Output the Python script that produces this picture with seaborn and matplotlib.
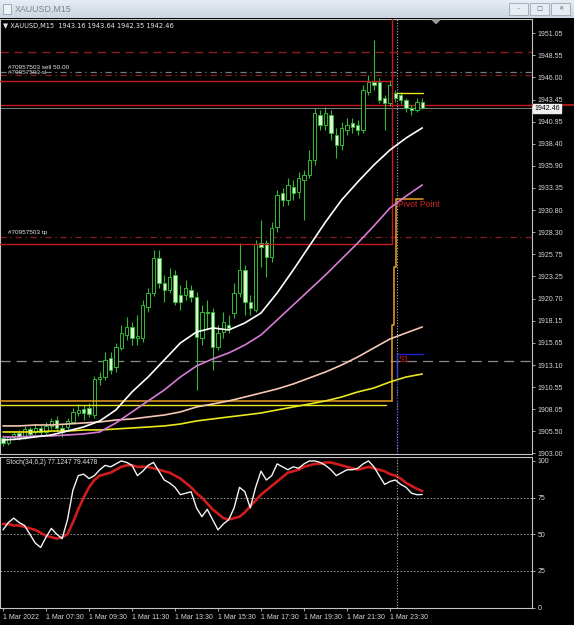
# XAUUSD M15 chart (MT4 style) with MAs, levels and stochastic
import numpy as np
import pandas as pd
import seaborn as sns
import matplotlib.pyplot as plt
from matplotlib.patches import Rectangle, Polygon
from matplotlib.lines import Line2D

W, H = 574, 625

# ---- candles, 1 Mar 2022 05:30 onward ----
opens = [1904.75, 1904.18, 1904.87, 1905.32, 1904.87, 1905.78, 1905.44, 1905.90, 1905.44, 1906.13,
         1906.81, 1905.90, 1906.01, 1906.58, 1907.61, 1908.07, 1908.18, 1907.38, 1911.50, 1911.73,
         1913.90, 1912.88, 1915.05, 1916.54, 1917.45, 1916.19, 1916.19, 1919.74, 1921.34, 1925.34,
         1922.48, 1921.68, 1923.40, 1921.11, 1921.11, 1921.68, 1920.88, 1916.19, 1919.17, 1919.17,
         1915.16, 1916.88, 1917.68, 1919.05, 1921.34, 1923.97, 1920.31, 1919.40, 1927.06, 1927.06,
         1925.46, 1928.89, 1932.78, 1931.98, 1933.47, 1932.90, 1934.27, 1934.84, 1936.56, 1941.70,
         1940.56, 1941.70, 1939.42, 1938.27, 1939.99, 1940.79, 1940.56, 1939.99, 1944.34, 1945.48,
         1945.48, 1943.65, 1943.08, 1944.22, 1943.99, 1943.42, 1942.50, 1942.28, 1943.16]
highs = [1905.10, 1904.98, 1905.55, 1905.67, 1906.13, 1906.01, 1906.35, 1906.24, 1906.58, 1907.04,
         1907.27, 1906.35, 1907.04, 1908.18, 1908.64, 1908.53, 1908.76, 1911.85, 1912.30, 1914.59,
         1914.59, 1915.62, 1917.68, 1918.60, 1918.02, 1918.82, 1920.54, 1921.91, 1926.26, 1926.26,
         1923.40, 1924.20, 1923.97, 1922.26, 1922.83, 1922.26, 1921.46, 1919.97, 1920.54, 1919.62,
         1917.68, 1919.17, 1918.82, 1922.48, 1927.06, 1924.54, 1921.11, 1927.40, 1929.69, 1927.40,
         1929.46, 1933.12, 1933.35, 1934.50, 1934.27, 1935.18, 1935.41, 1937.70, 1942.50, 1942.28,
         1942.62, 1942.28, 1940.22, 1940.90, 1941.36, 1941.36, 1941.13, 1945.14, 1946.28, 1950.28,
         1945.94, 1943.99, 1945.71, 1944.56, 1944.34, 1943.65, 1942.85, 1943.65, 1943.64]
lows = [1903.84, 1903.95, 1904.52, 1904.52, 1904.64, 1904.98, 1905.21, 1905.10, 1905.21, 1905.78,
        1905.55, 1904.87, 1905.67, 1906.35, 1907.27, 1906.81, 1907.16, 1907.04, 1910.82, 1911.39,
        1912.07, 1912.30, 1914.82, 1915.96, 1915.39, 1915.39, 1915.74, 1919.17, 1921.00, 1921.91,
        1920.31, 1921.34, 1919.97, 1919.40, 1920.54, 1920.31, 1910.24, 1915.39, 1917.11, 1912.53,
        1914.82, 1916.19, 1916.76, 1918.48, 1920.88, 1918.82, 1918.82, 1919.17, 1924.32, 1923.17,
        1924.89, 1928.32, 1931.29, 1931.41, 1931.98, 1932.21, 1929.69, 1934.50, 1935.98, 1939.99,
        1939.99, 1938.84, 1936.78, 1937.70, 1939.42, 1939.64, 1939.42, 1939.64, 1943.99, 1944.56,
        1943.08, 1939.99, 1942.73, 1943.19, 1942.96, 1942.05, 1941.70, 1942.05, 1942.35]
closes = [1904.18, 1904.87, 1905.21, 1904.87, 1905.78, 1905.21, 1905.90, 1905.44, 1906.13, 1906.70,
          1905.90, 1905.44, 1906.70, 1907.73, 1907.96, 1907.61, 1907.50, 1911.50, 1911.73, 1913.68,
          1912.53, 1915.16, 1916.76, 1917.45, 1916.19, 1916.42, 1919.97, 1921.34, 1925.34, 1922.48,
          1921.68, 1923.17, 1920.31, 1920.31, 1921.91, 1920.88, 1916.31, 1919.17, 1919.05, 1915.16,
          1916.76, 1918.02, 1917.34, 1921.34, 1923.97, 1920.31, 1919.62, 1926.95, 1926.60, 1925.46,
          1928.78, 1932.55, 1931.98, 1933.70, 1932.78, 1934.50, 1934.84, 1936.56, 1941.93, 1940.56,
          1941.93, 1939.64, 1938.27, 1940.22, 1940.56, 1940.33, 1939.99, 1944.56, 1945.48, 1945.14,
          1943.42, 1943.08, 1945.14, 1943.65, 1943.42, 1942.50, 1942.28, 1943.19, 1942.46]

# ---- moving averages, read every 3 bars ----
ma_bars = list(range(0, 79, 3))
ma_white = [1904.52, 1904.64, 1904.87, 1905.10, 1905.55, 1906.01, 1906.70, 1907.96, 1910.02, 1911.73,
            1913.68, 1915.62, 1916.88, 1917.34, 1917.11, 1917.91, 1919.05, 1921.34, 1923.97, 1926.72,
            1929.46, 1931.98, 1934.04, 1935.98, 1937.70, 1939.07, 1940.22]
ma_violet = [1904.87, 1904.87, 1904.98, 1904.98, 1905.10, 1905.21, 1905.44, 1906.47, 1907.73, 1908.99,
             1910.24, 1911.73, 1912.99, 1913.79, 1914.48, 1915.39, 1916.54, 1918.25, 1919.97, 1921.68,
             1923.40, 1925.23, 1927.06, 1929.01, 1931.06, 1932.43, 1933.70]
ma_peach = [1906.13, 1906.13, 1906.24, 1906.24, 1906.35, 1906.47, 1906.58, 1906.81, 1906.93, 1907.16,
            1907.38, 1907.73, 1908.30, 1908.64, 1908.99, 1909.44, 1909.90, 1910.36, 1910.93, 1911.62,
            1912.30, 1913.10, 1914.02, 1915.05, 1916.08, 1916.77, 1917.45]
ma_yellow = [1905.44, 1905.44, 1905.44, 1905.55, 1905.55, 1905.67, 1905.67, 1905.78, 1905.90, 1906.01,
             1906.13, 1906.35, 1906.70, 1906.93, 1907.16, 1907.38, 1907.61, 1907.96, 1908.30, 1908.64,
             1908.99, 1909.44, 1910.02, 1910.47, 1911.16, 1911.73, 1912.07]

# ---- stochastic (34,6,2) ----
stoch_main = [53, 58, 61, 58, 56, 50, 44, 41, 48, 54, 50, 47, 60, 80, 90, 91, 88, 90, 94, 97,
              96, 98, 100, 99, 97, 90, 93, 97, 99, 93, 87, 85, 82, 77, 78, 79, 68, 62, 67, 60,
              53, 57, 60, 68, 82, 79, 68, 82, 93, 87, 90, 98, 96, 94, 96, 95, 98, 100, 100, 99,
              97, 94, 90, 92, 94, 94, 95, 98, 100, 96, 90, 84, 86, 87, 84, 82, 78, 77, 77.12]
stoch_signal = [57, 57, 56, 56, 55, 54, 53, 51, 49, 48, 47, 48, 50, 58, 67, 75, 82, 87, 90, 91,
                92, 94, 96, 97, 97, 96, 96, 96, 95, 94, 93, 92, 90, 88, 85, 82, 78, 75, 71, 67,
                64, 61, 60, 61, 62, 65, 69, 73, 77, 80, 83, 86, 89, 92, 93, 94, 96, 97, 98, 98,
                99, 99, 98, 97, 96, 95, 94, 95, 96, 95, 94, 93, 91, 90, 88, 85, 83, 81, 79.45]
stoch_levels = [25, 50, 75]
stoch_ticks = [0, 25, 50, 75, 100]

# ---- axis labels ----
price_ticks = [1951.05, 1948.55, 1946.00, 1943.45, 1940.95, 1938.40, 1935.90, 1933.35, 1930.80,
               1928.30, 1925.75, 1923.25, 1920.70, 1918.15, 1915.65, 1913.10, 1910.55, 1908.05,
               1905.50, 1903.00]
time_bars = [0, 8, 16, 24, 32, 40, 48, 56, 64, 72]
time_labels = ["1 Mar 2022", "1 Mar 07:30", "1 Mar 09:30", "1 Mar 11:30", "1 Mar 13:30",
               "1 Mar 15:30", "1 Mar 17:30", "1 Mar 19:30", "1 Mar 21:30", "1 Mar 23:30"]

# ---- levels / objects ----
order_dash = 1948.91
order_entry = 1946.62
order_sl = 1946.28
order_tp = 1927.75
yday_high = 1945.59
yday_low = 1926.94
ask_price = 1942.85
bid_price = 1942.46
gray_level = 1913.56
orange_level = 1908.98
yellow_level = 1908.58
today_open = 1944.16
pivot = 1932.09
pivot_steps = [1908.98, 1917.68, 1924.32, 1932.09]
s1 = 1914.36
s1_low = 1912.00
box_end = 72.4
yellow_end = 71.3
day_sep = 73.3
last_bar = 78.1

GREEN = "#35b835"
BEAR_FILL = "#d6f7cc"
GRID = "#a8a8a8"
LABEL_RED = "#d42020"


def fx(x):
    return x / W


def fy(y):
    return 1 - y / H


sns.set_theme(style="dark", rc={
    "axes.facecolor": "black", "figure.facecolor": "black",
    "axes.edgecolor": "#c4c4c4", "axes.linewidth": 0.8,
    "xtick.color": "#c4c4c4", "ytick.color": "#c4c4c4",
    "text.color": "#e0e0e0", "axes.grid": False,
})
plt.rcParams["font.family"] = ["Liberation Sans Narrow", "Liberation Sans", "DejaVu Sans"]

fig = plt.figure(figsize=(W / 100, H / 100), dpi=100)
ax = fig.add_axes([0, fy(454), fx(532), (454 - 19) / H])
axs = fig.add_axes([0, fy(608), fx(532), (608 - 457) / H])

bars = np.arange(len(closes))
df = pd.DataFrame({"bar": bars, "open": opens, "high": highs, "low": lows, "close": closes})
bull = df["close"] >= df["open"]

# candles
ax.vlines(df["bar"], df["low"], df["high"], color=GREEN, lw=0.8, zorder=3)
body_lo = df[["open", "close"]].min(axis=1)
body_h = (df["close"] - df["open"]).abs().clip(lower=0.06)
ax.bar(df["bar"], body_h, bottom=body_lo, width=0.62,
       color=np.where(bull, "black", BEAR_FILL), edgecolor=GREEN, linewidth=0.7, zorder=4)

# moving averages
ma_df = pd.DataFrame({"bar": ma_bars, "white": ma_white, "violet": ma_violet,
                      "peach": ma_peach, "yellow": ma_yellow})
for col, c in [("yellow", "#e8e81a"), ("peach", "#f4c8b4"),
               ("violet", "#d77bd7"), ("white", "#ffffff")]:
    sns.lineplot(data=ma_df, x="bar", y=col, ax=ax, color=c, lw=1.2, zorder=6)

# horizontal order lines / levels
ax.axhline(order_dash, color="#8a1c1c", lw=1.0, ls=(0, (6, 4)), zorder=2)
ax.axhline(order_entry, color="#7a7a7a", lw=0.9, ls=(0, (5, 3, 1, 3)), zorder=2)
ax.axhline(order_sl, color="#8a1c1c", lw=0.9, ls=(0, (5, 3, 1, 3)), zorder=2)
ax.axhline(order_tp, color="#8a1c1c", lw=0.9, ls=(0, (5, 3, 1, 3)), zorder=2)
ax.axhline(gray_level, color="#8c8c8c", lw=0.9, ls=(0, (8, 5)), zorder=2)
ax.axhline(bid_price, color="#8c9a9a", lw=0.6, zorder=2)
ax.axhline(ask_price, color="#c81c1c", lw=1.0, zorder=2)

# yesterday box
x0 = -0.56
ax.plot([x0, box_end], [yday_high, yday_high], color="#c01c1c", lw=1.0, zorder=5)
ax.plot([x0, box_end], [yday_low, yday_low], color="#c01c1c", lw=1.0, zorder=5)
ax.plot([box_end, box_end], [yday_low, 1953], color="#c01c1c", lw=1.0, zorder=5)

# orange / yellow levels with pivot step
ax.plot([x0, box_end], [orange_level, orange_level], color="#f0a020", lw=1.1, zorder=5)
ax.plot([x0, yellow_end], [yellow_level, yellow_level], color="#e8e81a", lw=1.0, zorder=5)
step_x = [box_end, box_end, box_end + 0.35, box_end + 0.35, day_sep - 0.2, day_sep - 0.2, last_bar]
step_y = [pivot_steps[0], pivot_steps[1], pivot_steps[1], pivot_steps[2], pivot_steps[2],
          pivot_steps[3], pivot_steps[3]]
ax.plot(step_x, step_y, color="#f0a020", lw=1.1, zorder=5)
ax.text(day_sep + 0.2, pivot - 0.1, "Pivot Point", color=LABEL_RED, fontsize=6.2,
        va="top", ha="left", zorder=8)

# S1 and today open
ax.plot([day_sep, last_bar], [s1, s1], color="#2020d0", lw=1.0, zorder=5)
ax.plot([day_sep, day_sep], [s1_low, s1], color="#2020d0", lw=1.0, zorder=5)
ax.text(day_sep + 0.3, s1 - 0.1, "S1", color=LABEL_RED, fontsize=6.2, va="top", ha="left", zorder=8)
ax.plot([day_sep, last_bar], [today_open, today_open], color="#e8e81a", lw=1.0, zorder=5)

# period separator
ax.axvline(day_sep, color="#b0b0b0", lw=0.8, ls=(0, (1, 1.5)), zorder=6)
ax.plot([day_sep, day_sep], [1902.9, s1], color="#3030e0", lw=1.0, ls=(0, (1, 1.5)), zorder=7)
axs.axvline(day_sep, color="#b0b0b0", lw=0.8, ls=(0, (1, 1.5)), zorder=6)

# order labels
ax.text(1, order_entry + 0.25, "#70957503 sell 50.00", color="#e8e8e8", fontsize=4.6, va="bottom")
ax.text(1, order_sl - 0.05, "#70957503 sl", color="#d0d0d0", fontsize=4.6, va="bottom")
ax.text(1, order_tp + 0.25, "#70957503 tp", color="#e8e8e8", fontsize=4.6, va="bottom")

ax.set_xlim(-0.56, 98.42)
ax.set_ylim(1902.92, 1952.68)
ax.set_xticks([])
ax.set_yticks(price_ticks)
ax.set_yticklabels([f"{p:.2f}" for p in price_ticks])
ax.yaxis.tick_right()
ax.tick_params(axis="y", direction="out", length=2.5, width=0.6, pad=1.5,
               labelsize=5.0, labelcolor="#d8d8d8", right=True, left=False)
ax.set_xlabel("")
ax.set_ylabel("")

# stochastic
st = pd.DataFrame({"bar": bars, "main": stoch_main, "signal": stoch_signal})
for lvl in stoch_levels:
    axs.axhline(lvl, color=GRID, lw=0.6, ls=(0, (2, 2)), zorder=1)
sns.lineplot(data=st, x="bar", y="signal", ax=axs, color="#d01c1c", lw=1.9, zorder=4)
sns.lineplot(data=st, x="bar", y="main", ax=axs, color="#f4f4f4", lw=1.0, zorder=5)
axs.set_xlim(-0.56, 98.42)
axs.set_ylim(-0.3, 102.7)
axs.set_yticks(stoch_ticks)
axs.set_yticklabels([str(v) for v in stoch_ticks])
axs.yaxis.tick_right()
axs.tick_params(axis="y", direction="out", length=2.5, width=0.6, pad=1.5,
                labelsize=5.0, labelcolor="#d8d8d8", right=True, left=False)
axs.set_xticks(time_bars)
axs.set_xticklabels(time_labels, ha="left")
axs.tick_params(axis="x", direction="out", length=2.5, width=0.6, pad=1.5,
                labelsize=5.0, labelcolor="#d8d8d8", bottom=True)
axs.set_xlabel("")
axs.set_ylabel("")
axs.text(0.6, 101.5, "Stoch(34,6,2) 77.1247 79.4478", color="#e0e0e0", fontsize=4.8, va="top")

for a in (ax, axs):
    for s in a.spines.values():
        s.set_color("#c4c4c4")
        s.set_linewidth(0.8)

# header line
fig.text(fx(3), fy(26), "\u25bc XAUUSD,M15  1943.16 1943.64 1942.35 1942.46", color="#e8e8e8",
         fontsize=4.8, va="center", ha="left", family=["Liberation Sans Narrow", "DejaVu Sans"])
fig.patches.append(Polygon([[fx(432), fy(19.5)], [fx(440), fy(19.5)], [fx(436), fy(23.5)]],
                           closed=True, transform=fig.transFigure, color="#9a9a9a"))

# price marker on axis
fig.add_artist(Line2D([fx(532), 1], [fy(104.5), fy(104.5)], color="#c81c1c", lw=1.2,
                      transform=fig.transFigure))
fig.text(fx(534), fy(108.5), "1942.46", color="black", fontsize=5.0, va="center", ha="left",
         bbox=dict(boxstyle="square,pad=0.15", fc="#f0f0f0", ec="#f0f0f0"))

# window title bar (light gradient)
grad = np.linspace(0, 1, 18).reshape(-1, 1)
tax = fig.add_axes([0, fy(18), 1, 18 / H], zorder=-1)
tax.imshow(grad, aspect="auto", cmap=sns.blend_palette(["#e6ecf3", "#cdd6e0"], as_cmap=True))
tax.set_axis_off()
fig.patches.append(Rectangle((fx(3), fy(14)), 8 / W, 10 / H, transform=fig.transFigure,
                             fc="#eef3f8", ec="#8aa0b8", lw=0.6))
fig.text(fx(15), fy(9), "XAUUSD,M15", color="#7a8490", fontsize=6.4, va="center", ha="left")
for bx, sym in [(509, "\u2013"), (530, "\u25a1"), (551, "\u2715")]:
    fig.patches.append(Rectangle((fx(bx), fy(15)), 19 / W, 12 / H, transform=fig.transFigure,
                                 fc="#e6ecf2", ec="#9aa6b4", lw=0.6))
    fig.text(fx(bx + 9.5), fy(9), sym, color="#5a6470", fontsize=4.5, va="center", ha="center",
             family="DejaVu Sans")

fig.savefig("out.png", dpi=100, facecolor="black")
